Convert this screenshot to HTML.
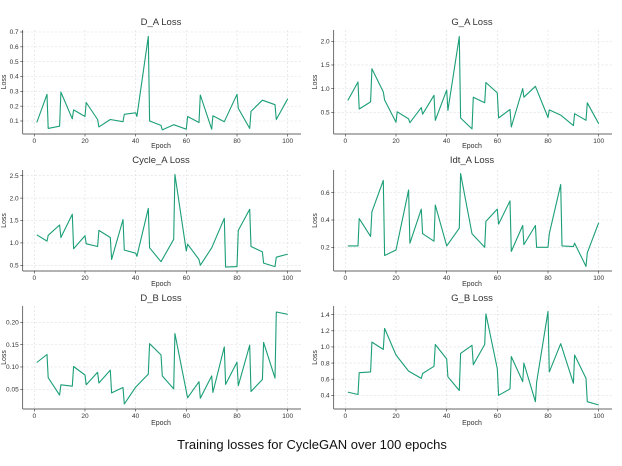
<!DOCTYPE html>
<html><head><meta charset="utf-8"><style>
body{margin:0;background:#fff;width:622px;height:461px;overflow:hidden;font-family:"Liberation Sans",sans-serif}
</style></head><body>
<svg id="fig" width="622" height="461" xmlns="http://www.w3.org/2000/svg" font-family="Liberation Sans, sans-serif">
<text x="312" y="449" text-anchor="middle" font-size="13" fill="#111">Training losses for CycleGAN over 100 epochs</text>
</svg>
<script>
const xTicks=[0,20,40,60,80,100];
const daX=[1,5,5.5,10,10.5,15,15.5,20,20.5,25,25.5,30,35,35.5,40,40.5,45,45.5,50,50.5,55,60,60.5,65,65.5,70,70.5,75,80,80.5,85,85.5,90,95,95.5,100];
const daY=[0.09,0.28,0.05,0.065,0.295,0.115,0.175,0.13,0.225,0.11,0.06,0.11,0.095,0.145,0.155,0.13,0.67,0.1,0.07,0.04,0.075,0.045,0.13,0.09,0.275,0.045,0.135,0.095,0.28,0.185,0.05,0.165,0.24,0.21,0.11,0.25];
const gaX=[1,5,5.5,10,10.5,15,15.5,20,20.5,25,25.5,30,30.5,35,35.5,40,40.5,45,45.5,50,50.5,55,55.5,60,60.5,65,65.5,70,70.5,75,80,80.5,85,90,90.5,95,95.5,100];
const gaY=[0.75,1.14,0.57,0.72,1.42,0.93,0.76,0.29,0.51,0.36,0.28,0.6,0.46,0.86,0.33,0.97,0.54,2.1,0.38,0.15,0.82,0.7,1.13,0.91,0.38,0.56,0.19,1.0,0.82,1.05,0.39,0.55,0.44,0.22,0.47,0.33,0.7,0.26];
const caX=[1,5,5.5,10,10.5,15,15.5,20,20.5,25,25.5,30,30.5,35,35.5,40,40.5,45,45.5,50,55,55.5,60,60.5,65,65.5,70,75,75.5,80,80.5,85,85.5,90,90.5,95,95.5,100];
const caY=[1.18,1.04,1.17,1.4,1.12,1.64,0.87,1.16,0.98,0.92,1.28,1.12,0.63,1.52,0.84,0.77,0.7,1.77,0.89,0.58,1.08,2.53,0.82,0.97,0.63,0.5,0.89,1.55,0.46,0.47,1.28,1.75,0.92,0.8,0.55,0.47,0.68,0.75];
const iaX=[1,5,5.5,10,10.5,15,15.5,20,25,25.5,30,30.5,35,35.5,40,45,45.5,50,55,55.5,60,60.5,65,65.5,70,70.5,75,75.5,80,80.5,85,85.5,90,90.5,95,95.5,100];
const iaY=[0.21,0.21,0.41,0.28,0.46,0.69,0.14,0.18,0.62,0.23,0.48,0.3,0.245,0.51,0.21,0.34,0.74,0.3,0.2,0.39,0.48,0.37,0.54,0.17,0.36,0.22,0.36,0.2,0.2,0.3,0.66,0.21,0.205,0.23,0.06,0.16,0.38];
const dbX=[1,5,5.5,10,10.5,15,15.5,20,20.5,25,25.5,30,30.5,35,35.5,40,45,45.5,50,50.5,55,55.5,60.5,65,65.5,70,70.5,75,75.5,80,80.5,85,85.5,90,90.5,95,95.5,100];
const dbY=[0.11,0.128,0.076,0.037,0.06,0.057,0.101,0.082,0.06,0.088,0.064,0.093,0.042,0.054,0.017,0.055,0.084,0.152,0.127,0.08,0.051,0.175,0.031,0.067,0.03,0.08,0.043,0.145,0.061,0.111,0.058,0.149,0.045,0.072,0.155,0.075,0.223,0.218];
const gbX=[1,5,5.5,10,10.5,15,15.5,20,25,30,30.5,35,35.5,40,40.5,45,45.5,50,50.5,55,55.5,60,60.5,65,65.5,70,70.5,75,75.5,80,80.5,85,90,90.5,95,95.5,100];
const gbY=[0.44,0.41,0.68,0.69,1.06,0.97,1.23,0.9,0.7,0.61,0.67,0.76,1.03,0.85,0.63,0.46,0.92,1.02,0.78,1.03,1.41,0.73,0.4,0.48,0.88,0.57,0.8,0.32,0.56,1.44,0.69,1.04,0.55,0.9,0.61,0.32,0.28];
const daTicks=[0.1,0.2,0.3,0.4,0.5,0.6,0.7];
const gaTicks=[0.5,1.0,1.5,2.0];
const caTicks=[0.5,1.0,1.5,2.0,2.5];
const iaTicks=[0.2,0.4,0.6];
const dbTicks=[0.05,0.10,0.15,0.20];
const gbTicks=[0.4,0.6,0.8,1.0,1.2,1.4];

const NS='http://www.w3.org/2000/svg';
const svg=document.getElementById('fig');
function mk(tag,attrs,parent){const e=document.createElementNS(NS,tag);for(const k in attrs)e.setAttribute(k,attrs[k]);(parent||svg).appendChild(e);return e;}
// panel: col offset, frame top/bottom, two reference ticks (value,pixel)
const panels=[
 {name:'d-a',title:'D_A Loss',ox:0,top:30,bot:134,r:[0.7,32,0.1,121],xs:daX,ys:daY,ticks:daTicks,dec:1,ty:25,ly:148},
 {name:'g-a',title:'G_A Loss',ox:311,top:30,bot:134,r:[2.0,41.3,0.5,112.3],xs:gaX,ys:gaY,ticks:gaTicks,dec:1,ty:25,ly:148},
 {name:'cycle-a',title:'Cycle_A Loss',ox:0,top:170,bot:271,r:[2.5,175.7,0.5,265.3],xs:caX,ys:caY,ticks:caTicks,dec:1,ty:163,ly:286},
 {name:'idt-a',title:'Idt_A Loss',ox:311,top:170,bot:271,r:[0.6,192.7,0.2,247.3],xs:iaX,ys:iaY,ticks:iaTicks,dec:1,ty:163,ly:286},
 {name:'d-b',title:'D_B Loss',ox:0,top:306,bot:409,r:[0.20,322.3,0.05,389.3],xs:dbX,ys:dbY,ticks:dbTicks,dec:2,ty:301,ly:425},
 {name:'g-b',title:'G_B Loss',ox:311,top:306,bot:409,r:[1.4,314.7,0.4,395.3],xs:gbX,ys:gbY,ticks:gbTicks,dec:1,ty:301,ly:425}
];
panels.forEach(p=>{
 const g=mk('g',{});
 
 
 const L=p.ox+22.7,R=p.ox+301;
 const xS=v=>p.ox+34.3+v*2.534;
 const k=(p.r[3]-p.r[1])/(p.r[2]-p.r[0]);
 const yS=v=>p.r[1]+(v-p.r[0])*k;
 xTicks.forEach(t=>{
  const x=xS(t);
  mk('line',{x1:x,x2:x,y1:p.top,y2:p.bot,stroke:'#ddd','stroke-width':0.6,'stroke-dasharray':'2,2'},g);
  mk('line',{x1:x,x2:x,y1:p.bot,y2:p.bot+2.5,stroke:'#333','stroke-width':0.6},g);
  const tl=mk('text',{x:x,y:p.bot+9,'text-anchor':'middle','font-size':6.5,fill:'#333'},g);
  
  
  tl.textContent=t;
 });
 p.ticks.forEach(t=>{
  const y=yS(t);
  mk('line',{x1:L,x2:R,y1:y,y2:y,stroke:'#ddd','stroke-width':0.6,'stroke-dasharray':'2,2'},g);
  mk('line',{x1:L-2.5,x2:L,y1:y,y2:y,stroke:'#333','stroke-width':0.6},g);
  const tl=mk('text',{x:L-4,y:y+2.2,'text-anchor':'end','font-size':6.5,fill:'#333'},g);
  
  
  tl.textContent=t.toFixed(p.dec);
 });
 mk('line',{x1:L,x2:L,y1:p.top,y2:p.bot,stroke:'#333','stroke-width':0.7},g);
 mk('line',{x1:L,x2:R,y1:p.bot,y2:p.bot,stroke:'#333','stroke-width':0.7},g);
 const pts=p.xs.map((x,i)=>xS(x).toFixed(1)+','+yS(p.ys[i]).toFixed(1)).join(' ');
 const line=mk('polyline',{points:pts,fill:'none',stroke:'#1b9e77','stroke-width':1.1,'stroke-linejoin':'round'},g);
 
 
 const tt=mk('text',{x:p.ox+161,y:p.ty,'text-anchor':'middle','font-size':9.5,fill:'#333'},g);
 
 
 tt.textContent=p.title;
 const xl=mk('text',{x:p.ox+161,y:p.ly,'text-anchor':'middle','font-size':7,fill:'#333'},g);
 
 
 xl.textContent='Epoch';
 const cy=(p.top+p.bot)/2, lx=p.ox+6;
 const yl=mk('text',{x:lx,y:cy,'text-anchor':'middle','font-size':7,fill:'#333',transform:'rotate(-90 '+lx+' '+cy+')'},g);
 
 
 yl.textContent='Loss';
});
</script>
</body></html>
